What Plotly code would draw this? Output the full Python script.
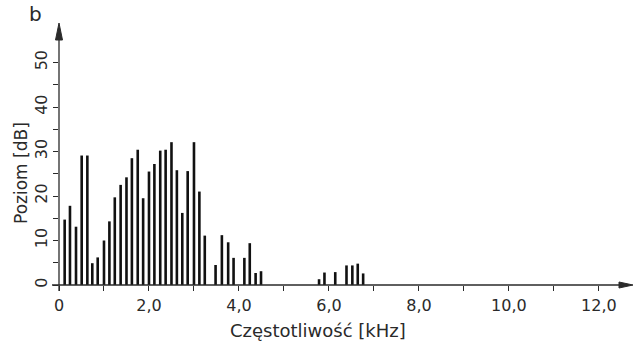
import plotly.graph_objects as go

# harmonic frequencies [kHz] and levels [dB]
freq_khz = [0.126, 0.244, 0.378, 0.504, 0.63, 0.74, 0.86, 1.0, 1.12, 1.24, 1.37, 1.50,
            1.62, 1.75, 1.87, 2.0, 2.12, 2.25, 2.37, 2.5, 2.62, 2.74, 2.86, 3.0, 3.12,
            3.24, 3.48, 3.62, 3.76, 3.88, 4.12, 4.24, 4.37, 4.49,
            5.78, 5.90, 6.14, 6.39, 6.52, 6.64, 6.76]
level_db = [14.7, 17.8, 13.1, 29.1, 29.1, 4.9, 6.2, 10.0, 14.3, 19.7, 22.5, 24.2,
            28.5, 30.4, 19.5, 25.5, 27.2, 30.2, 30.4, 32.1, 25.8, 16.2, 25.6, 32.1, 21.0,
            11.1, 4.5, 11.2, 9.6, 6.1, 6.1, 9.4, 2.7, 3.1,
            1.3, 2.8, 2.9, 4.4, 4.4, 4.8, 2.6]

x_tickvals = [0, 1, 2, 3, 4, 5, 6, 7, 8, 9, 10, 11, 12]
x_ticktext = ["0", "", "2,0", "", "4,0", "", "6,0", "", "8,0", "", "10,0", "", "12,0"]
y_tickvals = [0, 5, 10, 15, 20, 25, 30, 35, 40, 45, 50]
y_ticktext = ["0", "", "10", "", "20", "", "30", "", "40", "", "50"]

x_title = "Częstotliwość [kHz]"
y_title = "Poziom [dB]"
panel_label = "b"

ink = "#2a2a2a"
font_family = "DejaVu Sans"

W, H = 633, 343
ML, MR, MT, MB = 59, 8, 36, 58
PW, PH = W - ML - MR, H - MT - MB


def px(xpix):
    return (xpix - ML) / PW


def py(ypix):
    return (H - MB - ypix) / PH


fig = go.Figure()
fig.add_trace(go.Bar(x=freq_khz, y=level_db, width=0.058,
                     marker=dict(color="#111111", line=dict(width=0))))

fig.update_layout(
    width=W, height=H,
    margin=dict(l=ML, r=MR, t=MT, b=MB),
    paper_bgcolor="white", plot_bgcolor="white",
    showlegend=False,
    font=dict(family=font_family, color=ink, size=16),
    xaxis=dict(range=[0, 12.58], tickvals=x_tickvals, ticktext=x_ticktext,
               ticks="outside", ticklen=5, tickwidth=1, tickcolor=ink,
               showline=False, showgrid=False, zeroline=False,
               ticklabelstandoff=1,
               tickfont=dict(size=16, color=ink)),
    yaxis=dict(range=[0, 55.96], tickvals=y_tickvals, ticktext=y_ticktext,
               ticks="outside", ticklen=5, tickwidth=1, tickcolor=ink,
               showline=False, showgrid=False, zeroline=False, tickangle=-90,
               tickfont=dict(size=16, color=ink)),
)

line_style = dict(color=ink, width=1.3)
# x axis line (with arrow)
fig.add_shape(type="line", xref="paper", yref="paper",
              x0=px(52), x1=px(622), y0=py(285), y1=py(285), line=line_style)
fig.add_shape(type="path", xref="paper", yref="paper",
              path=f"M {px(633)} {py(285)} L {px(619)} {py(288)} L {px(619)} {py(282)} Z",
              fillcolor=ink, line=dict(color=ink, width=1))
# y axis line (with arrow)
fig.add_shape(type="line", xref="paper", yref="paper",
              x0=px(59), x1=px(59), y0=py(291), y1=py(38), line=line_style)
fig.add_shape(type="path", xref="paper", yref="paper",
              path=f"M {px(59)} {py(23)} L {px(55.5)} {py(40)} L {px(62.5)} {py(40)} Z",
              fillcolor=ink, line=dict(color=ink, width=1))

# x title
fig.add_annotation(xref="paper", yref="paper", x=px(318), y=py(330),
                   xanchor="center", yanchor="middle", text=x_title,
                   showarrow=False, font=dict(size=18, color=ink))
# y title
fig.add_annotation(xref="paper", yref="paper", x=px(21), y=py(173),
                   xanchor="center", yanchor="middle", text=y_title, textangle=-90,
                   showarrow=False, font=dict(size=17, color=ink))
# panel label
fig.add_annotation(xref="paper", yref="paper", x=px(35), y=py(14),
                   xanchor="center", yanchor="middle", text=panel_label,
                   showarrow=False, font=dict(size=20, color=ink))

fig.write_html("out.html")
